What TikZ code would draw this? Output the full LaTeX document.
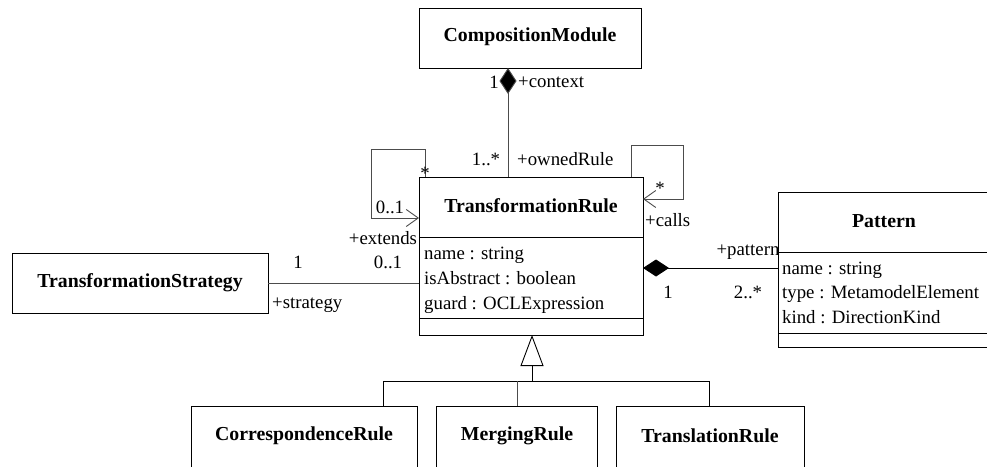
\documentclass[tikz,border=0pt]{standalone}
\usepackage{fontspec}
\setmainfont{Liberation Serif}
\usetikzlibrary{arrows.meta}
\begin{document}
\begin{tikzpicture}[x=1pt,y=-1pt,
  box/.style={draw=black, line width=0.9pt, fill=white},
  title/.style={font=\fontsize{19.8}{22}\selectfont\bfseries, inner sep=0pt},
  attr/.style={font=\fontsize{18.8}{21}\selectfont, inner sep=0pt, anchor=base west},
  lbl/.style={font=\fontsize{18.8}{21}\selectfont, inner sep=0pt},
  conn/.style={draw=black!70, line width=0.9pt},
  compo/.style={{Diamond[fill=black,length=26pt,width=17pt]}-},
  nav/.style={-{Straight Barb[length=12pt,width=17pt,line width=0.9pt]}},
  gen/.style={-{Triangle[open,fill=white,length=31pt,width=23pt,line width=0.9pt]}}
]
\useasboundingbox (0,0) rectangle (987,466);
\clip (0,0) rectangle (987,466);

% ---- class boxes ----
\path[box] (419,8) rectangle (641,68);
\node[title] (cm) at (530,37) {CompositionModule};

\path[box] (419,177) rectangle (643,335);
\draw[line width=0.9pt] (419,237) -- (643,237) (419,318) -- (643,318);
\node[title] (tr) at (531,206) {TransformationRule};
\node[attr] (trA) at (424,259) {name : string};
\node[attr] (trB) at (424,284) {isAbstract : boolean};
\node[attr] (trC) at (424,309) {guard : OCLExpression};

\path[box] (12,253) rectangle (268,313);
\node[title] (ts) at (140,283) {TransformationStrategy};

\path[box] (778,192) rectangle (992,347);
\draw[line width=0.9pt] (778,252) -- (992,252) (778,333) -- (992,333);
\node[title] (pt) at (884,221) {Pattern};
\node[attr] (ptA) at (782,274) {name : string};
\node[attr] (ptB) at (782,298) {type : MetamodelElement};
\node[attr] (ptC) at (782,323) {kind : DirectionKind};

\path[box] (191,406) rectangle (417,470);
\node[title] (cr) at (304,436) {CorrespondenceRule};
\path[box] (436,406) rectangle (597,470);
\node[title] (mr) at (517,436) {MergingRule};
\path[box] (616,406) rectangle (804,470);
\node[title] (tlr) at (710,436) {TranslationRule};

% ---- anchor points on box borders ----
\coordinate (cmB) at (508,68);
\coordinate (trT) at (508,177);
\coordinate (trExtTop) at (425,177);
\coordinate (trExtIn) at (419,218);
\coordinate (trCallTop) at (631,177);
\coordinate (trCallIn) at (643,199);
\coordinate (trL) at (419,283);
\coordinate (tsR) at (268,283);
\coordinate (trR) at (643,268);
\coordinate (ptL) at (778,268);
\coordinate (trBot) at (532,335);
\coordinate (hub) at (532,381);
\coordinate (crT) at (383,406);
\coordinate (mrT) at (517,406);
\coordinate (tlrT) at (709,406);

% ---- associations ----
\draw[conn, compo] (cmB) -- (trT);
\draw[conn, nav] (trExtTop) |- (371,149) |- (trExtIn);
\draw[conn, nav] (trCallTop) |- (683,145) |- (trCallIn);
\draw[conn] (tsR) -- (trL);
\draw[conn, compo, draw=black] (trR) -- (ptL);

% ---- generalization tree ----
\draw[line width=0.9pt, gen] (hub) -- (trBot);
\draw[line width=0.9pt] (crT) |- (tlrT |- hub) -- (tlrT);
\draw[conn] (hub -| mrT) -- (mrT);

% ---- role names and multiplicities ----
\node[lbl] (m1) at (494,82) {1};
\node[lbl, anchor=west] (rctx) at (518,82) {+context};
\node[lbl] (m2) at (486,159) {1..*};
\node[lbl, anchor=west] (rown) at (517,159) {+ownedRule};
\node[lbl] (m3) at (425,173) {*};
\node[lbl] (m4) at (390,207) {0..1};
\node[lbl] (rext) at (383,238) {+extends};
\node[lbl] (m5) at (660,188) {*};
\node[lbl, anchor=west] (rcall) at (645,220) {+calls};
\node[lbl] (m6) at (298,262) {1};
\node[lbl] (m7) at (388,262) {0..1};
\node[lbl, anchor=west] (rstr) at (272,305) {+strategy};
\node[lbl] (rpat) at (748,252) {+pattern};
\node[lbl] (m8) at (668,292) {1};
\node[lbl] (m9) at (748,292) {2..*};
\end{tikzpicture}
\end{document}
